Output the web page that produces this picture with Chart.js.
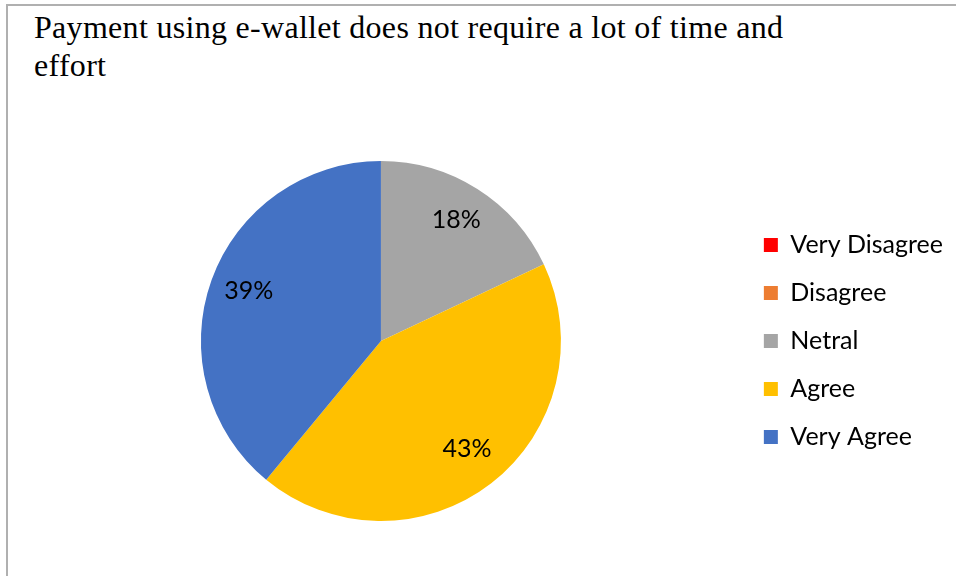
<!DOCTYPE html>
<html>
<head>
<meta charset="utf-8">
<script src="https://cdn.jsdelivr.net/npm/chart.js@4/dist/chart.umd.min.js"></script>
<style>
  html, body { margin: 0; padding: 0; background: #fff; }
  body { width: 956px; height: 576px; position: relative; overflow: hidden; }
  .frame {
    position: absolute; left: 6px; top: 4px; right: 0; bottom: 0;
    border-left: 2px solid #b0b0b0; border-top: 2px solid #b0b0b0;
  }
  .title {
    position: absolute; left: 34px; top: 8px; width: 900px;
    font-family: "Liberation Serif", "Times New Roman", serif;
    font-size: 32px; line-height: 38px; letter-spacing: 0.3px; color: #000;
  }
  #chart-wrap { position: absolute; left: 0; top: 0; width: 956px; height: 576px; }
</style>
</head>
<body>
<div class="frame"></div>
<div class="title">Payment using e-wallet does not require a lot of time and<br>effort</div>
<div id="chart-wrap"><canvas id="pieChart"></canvas></div>
<script>
// --- data ---
const categories = ['Very Disagree', 'Disagree', 'Netral', 'Agree', 'Very Agree'];
const shares = [0, 0, 18, 43, 39];
const sliceColors = ['#FF0000', '#ED7D31', '#A5A5A5', '#FFC000', '#4472C4'];

const labelFont = { family: 'Lato', size: 25 };

// percentage labels inside the slices
const sliceLabels = {
    id: 'sliceLabels',
    afterDatasetsDraw(chart) {
        const ctx = chart.ctx;
        const meta = chart.getDatasetMeta(0);
        ctx.save();
        ctx.font = labelFont.size + 'px ' + labelFont.family;
        ctx.fillStyle = '#000';
        ctx.textAlign = 'center';
        ctx.textBaseline = 'middle';
        meta.data.forEach((arc, i) => {
            if (!shares[i]) return;
            const p = arc.getProps(['x', 'y', 'startAngle', 'endAngle', 'outerRadius'], true);
            const mid = (p.startAngle + p.endAngle) / 2;
            const r = p.outerRadius * 0.78;
            ctx.fillText(shares[i] + '%', p.x + Math.cos(mid) * r, p.y + Math.sin(mid) * r - 3);
        });
        ctx.restore();
    }
};

const ctx = document.getElementById('pieChart');
new Chart(ctx, {
    type: 'pie',
    data: {
        labels: categories,
        datasets: [{
            data: shares,
            backgroundColor: sliceColors,
            borderWidth: 0
        }]
    },
    options: {
        responsive: true,
        maintainAspectRatio: false,
        animation: false,
        layout: { padding: { left: 21, right: 3, top: 161, bottom: 55 } },
        plugins: {
            legend: {
                position: 'right',
                align: 'center',
                labels: {
                    boxWidth: 14,
                    boxHeight: 14,
                    padding: 23,
                    color: '#000',
                    font: labelFont
                }
            },
            tooltip: { enabled: false },
            title: { display: false }
        }
    },
    plugins: [sliceLabels]
});
</script>
</body>
</html>
